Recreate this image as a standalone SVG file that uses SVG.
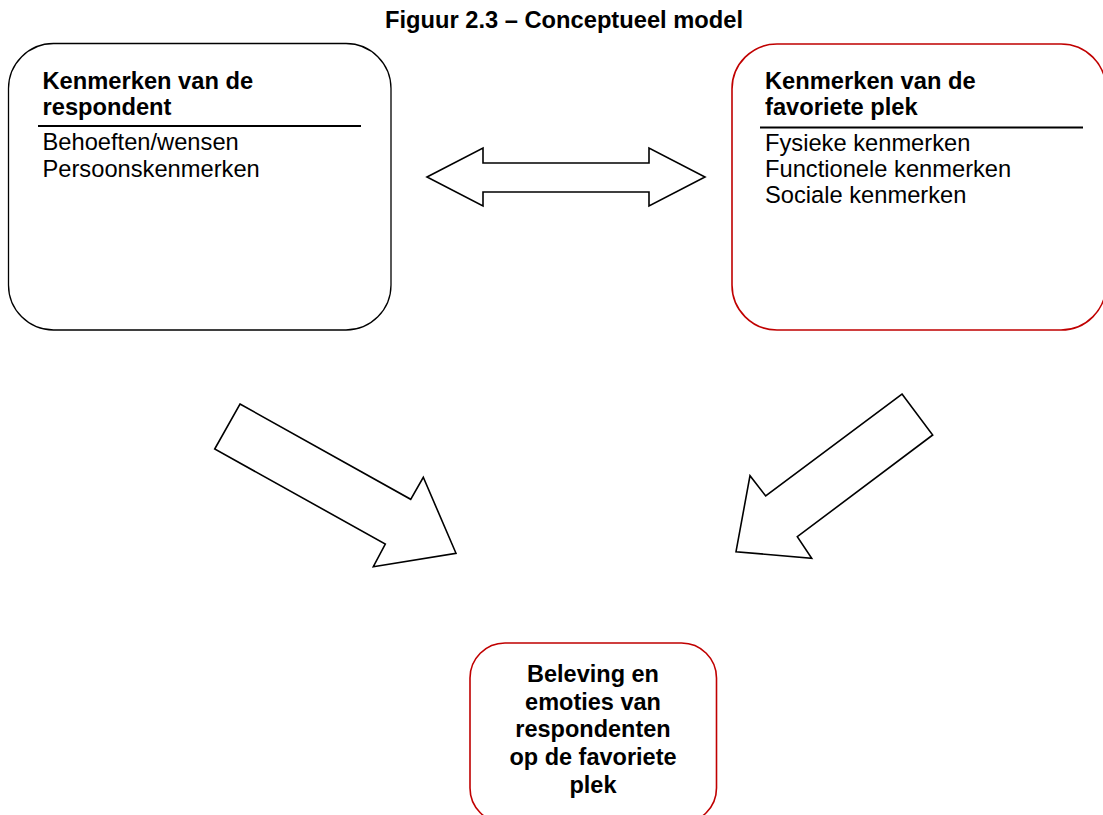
<svg xmlns="http://www.w3.org/2000/svg" width="1103" height="815" viewBox="0 0 1103 815">
<style>
.t{font-family:"Liberation Sans",Arial,sans-serif;fill:#000}
.b{font-weight:bold}
.box{fill:#fff;stroke:#000;stroke-width:1.3}
.red{fill:#fff;stroke:#c00000;stroke-width:1.6}
.arr{fill:#fff;stroke:#000;stroke-width:1.6;stroke-linejoin:miter}
.rule{stroke:#000;stroke-width:2}
</style>
<rect width="1103" height="815" fill="#fff"/>
<text class="t b" x="564" y="27.5" font-size="23.7" text-anchor="middle">Figuur 2.3 – Conceptueel model</text>
<g id="respondent">
<rect class="box" x="8.5" y="43.5" width="382.5" height="286.5" rx="45" ry="45"/>
<text class="t b" x="42.5" y="89.3" font-size="23.7">Kenmerken van de</text>
<text class="t b" x="42.5" y="115" font-size="23.7">respondent</text>
<line class="rule" x1="38" y1="126" x2="361" y2="126"/>
<text class="t" x="42.5" y="150" font-size="23.7">Behoeften/wensen</text>
<text class="t" x="42.5" y="176.7" font-size="23.7">Persoonskenmerken</text>
</g>
<g id="plek">
<rect class="red" x="732" y="44" width="374" height="286" rx="45" ry="45"/>
<text class="t b" x="765" y="89.3" font-size="23.7">Kenmerken van de</text>
<text class="t b" x="765" y="115" font-size="23.7">favoriete plek</text>
<line class="rule" x1="760" y1="127.5" x2="1083" y2="127.5"/>
<text class="t" x="765" y="150.7" font-size="23.7">Fysieke kenmerken</text>
<text class="t" x="765" y="176.7" font-size="23.7">Functionele kenmerken</text>
<text class="t" x="765" y="202.7" font-size="23.7">Sociale kenmerken</text>
</g>
<g id="beleving">
<rect class="red" x="470" y="643" width="246.5" height="180" rx="35" ry="35"/>
<text class="t b" x="593" y="681.7" font-size="23.5" text-anchor="middle">Beleving en</text>
<text class="t b" x="593" y="709.5" font-size="23.5" text-anchor="middle">emoties van</text>
<text class="t b" x="593" y="737.3" font-size="23.5" text-anchor="middle">respondenten</text>
<text class="t b" x="593" y="765" font-size="23.5" text-anchor="middle">op de favoriete</text>
<text class="t b" x="593" y="792.8" font-size="23.5" text-anchor="middle">plek</text>
</g>
<g id="connectors">
<polygon class="arr" points="427,177 483,148 483,163 649,163 649,148 705,177 649,206 649,192 483,192 483,206"/>
<polygon class="arr" points="240,404 410.7,499.3 423.3,477.3 456,553.3 373.3,566.7 385.3,544 214.7,449"/>
<polygon class="arr" points="902,394 932.7,435 797.3,536.7 811.7,558.3 736,551.7 750,475.7 765.7,496"/>
</g>
</svg>
